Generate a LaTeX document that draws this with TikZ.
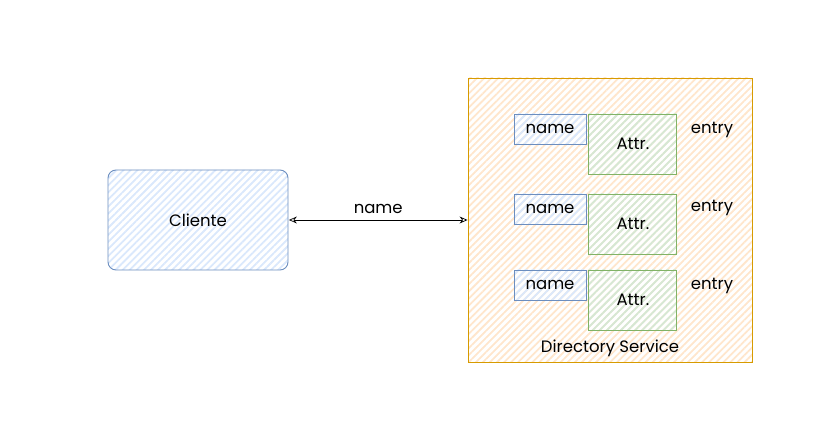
\documentclass[tikz,border=0pt]{standalone}
\usepackage{fontspec}
\setmainfont{Poppins}
\usepackage{xcolor}
\usetikzlibrary{arrows.meta, positioning, patterns.meta}

\definecolor{blueline}{HTML}{6C8EBF}
\definecolor{bluefill}{HTML}{DAE8FC}
\definecolor{orangeline}{HTML}{D79B00}
\definecolor{orangefill}{HTML}{FFE6CC}
\definecolor{greenline}{HTML}{82B366}
\definecolor{greenfill}{HTML}{D5E8D4}

\begin{document}
\begin{tikzpicture}[
  x=1pt, y=-1pt,
  hatch/.style={pattern={Lines[angle=45,distance=5pt,line width=1.8pt]}, pattern color=#1},
  box/.style={draw, align=center, inner sep=2pt, font=\fontsize{16.5}{19}\selectfont, line width=0.9pt},
  client/.style={box, rounded corners=8pt, draw=blueline, hatch=bluefill, minimum width=180pt, minimum height=100pt},
  dirbox/.style={box, draw=orangeline, hatch=orangefill, minimum width=284pt, minimum height=284pt},
  namebox/.style={box, draw=blueline, hatch=bluefill, minimum width=72pt, minimum height=30pt},
  attrbox/.style={box, draw=greenline, hatch=greenfill, minimum width=88pt, minimum height=60pt},
  lbl/.style={font=\fontsize{16.5}{19}\selectfont, inner sep=2pt},
  arrow/.style={{Stealth[open,length=8pt,width=7pt]}-{Stealth[open,length=8pt,width=7pt]}, line width=0.7pt}
]
\useasboundingbox (0,0) rectangle (827,435);

\node[client] (cliente) at (198,220) {Cliente};
\node[dirbox] (dir) at (610,220) {};
\node[lbl, above=3pt of dir.south] (dirlbl) {Directory Service};

% entries
\node[namebox] (name1) at (550,129) {name};
\node[attrbox, anchor=north west] (attr1) at ([xshift=2pt]name1.north east) {Attr.};
\node[lbl] (entry1) at (712,130) {entry};

\node[namebox] (name2) at (550,209) {name};
\node[attrbox, anchor=north west] (attr2) at ([xshift=2pt]name2.north east) {Attr.};
\node[lbl] (entry2) at (712,208) {entry};

\node[namebox] (name3) at (550,285) {name};
\node[attrbox, anchor=north west] (attr3) at ([xshift=2pt]name3.north east) {Attr.};
\node[lbl] (entry3) at (712,286) {entry};

\draw[arrow] (cliente) -- node[lbl, above=4pt] (req) {name} (dir);
\end{tikzpicture}
\end{document}
